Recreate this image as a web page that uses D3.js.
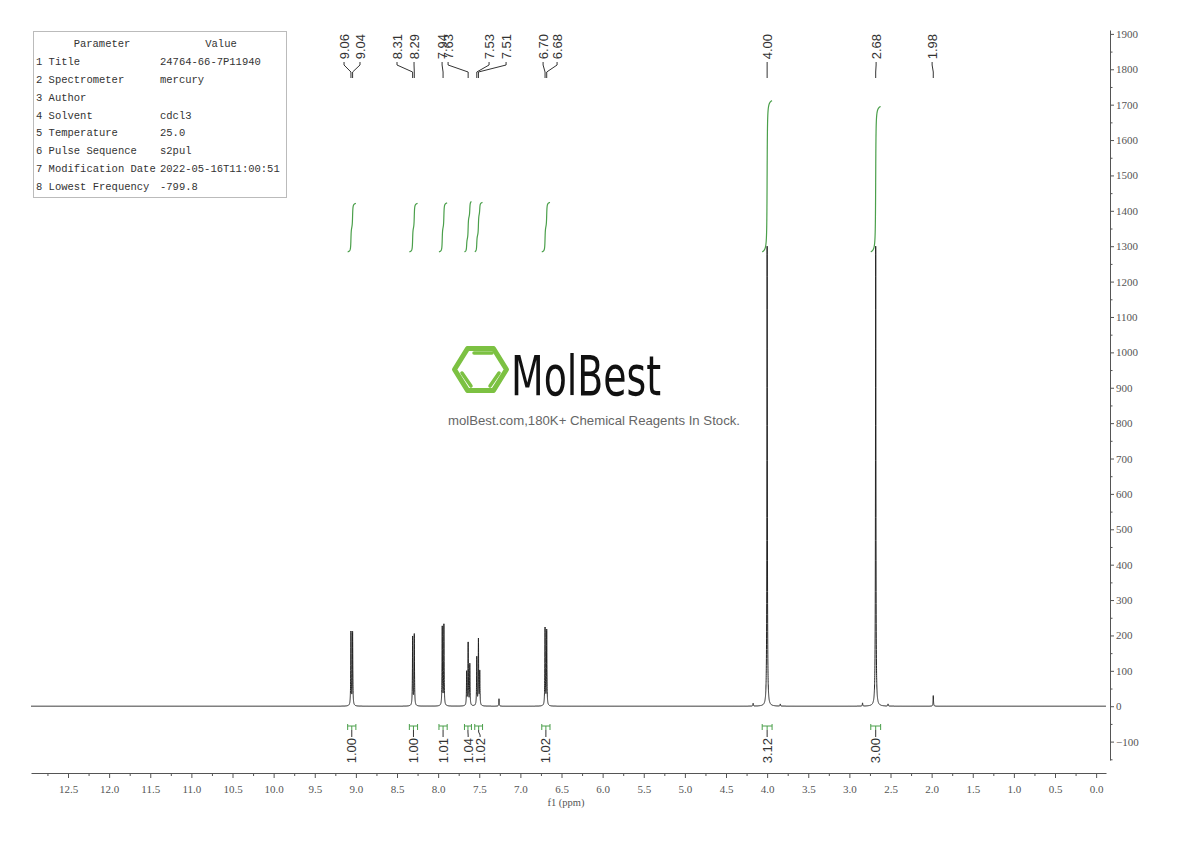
<!DOCTYPE html>
<html><head><meta charset="utf-8">
<script src="https://cdn.jsdelivr.net/npm/d3@7"></script>
<style>body{margin:0;background:#fff}svg{display:block}</style>
</head><body>
<svg id="c" width="1190" height="841"></svg>
<script>
// ---------- data ----------
const paramNames = ["1 Title","2 Spectrometer","3 Author","4 Solvent","5 Temperature","6 Pulse Sequence","7 Modification Date","8 Lowest Frequency"];
const paramValues = ["24764-66-7P11940","mercury","","cdcl3","25.0","s2pul","2022-05-16T11:00:51","-799.8"];

const peakPpm    = [9.06, 9.04, 8.31, 8.29, 7.95, 7.93, 7.653, 7.635, 7.615, 7.53, 7.51, 7.494, 7.26, 6.70, 6.68, 4.17, 4.00, 3.84, 2.84, 2.68, 2.53, 1.98];
const peakHeight = [208,  207,  194,  201,  222,  228,  95,    177,   117,   136,  186,  95,    21,   219,  213,  8,    1300, 6,    9,    1300, 6,    30];

const labelText = ["9.06","9.04","8.31","8.29","7.94","7.63","7.53","7.51","6.70","6.68","4.00","2.68","1.98"];
const labelPeak = [9.06, 9.04, 8.31, 8.29, 7.94, 7.635, 7.53, 7.51, 6.70, 6.68, 4.00, 2.68, 1.98];
const labelAt   = [9.144, 8.95, 8.50, 8.293, 7.952, 7.879, 7.381, 7.174, 6.724, 6.554, 4.00, 2.675, 1.994];

const integFrom  = [9.10, 8.35, 7.99, 7.68, 7.555, 6.74, 4.06, 2.74];
const integTo    = [9.00, 8.25, 7.89, 7.595, 7.46, 6.64, 3.94, 2.62];
const integValue = [1.00, 1.00, 1.01, 1.04, 1.02, 1.02, 3.12, 3.00];
const integLabelAt = [9.05, 8.30, 7.94, 7.635, 7.49, 6.69, 4.00, 2.68];

const xTicks = d3.range(0, 12.51, 0.5);
const yTicks = d3.range(-100, 1901, 100);

// ---------- scales ----------
const svg = d3.select("#c");
const x = d3.scaleLinear().domain([12.95, -0.12]).range([31, 1106]);
const y = d3.scaleLinear().domain([-152, 1911]).range([760, 30]);
const hw = 0.003;
const lor = (p, c, h) => h * hw * hw / ((p - c) * (p - c) + hw * hw);
const grid = d3.range(12.95, -0.12, -0.0004);
const spec = grid.map(p => {
  let s = 0;
  for (let i = 0; i < peakPpm.length; i++) s += lor(p, peakPpm[i], peakHeight[i]);
  return [p, s];
});

// ---------- table ----------
const tbl = svg.append("g").attr("font-family", "Liberation Mono, monospace").attr("font-size", "10.5px").attr("fill", "#333");
tbl.append("rect").attr("x", 33.5).attr("y", 31.5).attr("width", 253).attr("height", 166).attr("fill", "none").attr("stroke", "#bbb");
tbl.append("text").attr("x", 102).attr("y", 47).attr("text-anchor", "middle").text("Parameter");
tbl.append("text").attr("x", 221).attr("y", 47).attr("text-anchor", "middle").text("Value");
const rowY = d3.scaleLinear().domain([0, 7]).range([65, 190]);
tbl.selectAll("text.n").data(paramNames).join("text").attr("class", "n")
  .attr("x", 36).attr("y", (d, i) => rowY(i)).text(d => d);
tbl.selectAll("text.v").data(paramValues).join("text").attr("class", "v")
  .attr("x", 160).attr("y", (d, i) => rowY(i)).text(d => d);

// ---------- logo ----------
const logo = svg.append("g");
const cx = 480.5, cy = 369.5, r = 26;
const hex = d3.range(6).map(k => [cx + r * Math.cos(k * Math.PI / 3), cy + r * 0.93 * Math.sin(k * Math.PI / 3)]);
logo.append("path").attr("d", "M" + hex.join("L") + "Z").attr("fill", "none")
  .attr("stroke", "#7cc142").attr("stroke-width", 5).attr("stroke-linejoin", "round");
[[[474, 353], [492, 353]], [[462, 373], [471, 386]], [[499, 373], [490, 386]]].forEach(s =>
  logo.append("line").attr("x1", s[0][0]).attr("y1", s[0][1]).attr("x2", s[1][0]).attr("y2", s[1][1])
    .attr("stroke", "#7cc142").attr("stroke-width", 3.5).attr("stroke-linecap", "round"));
logo.append("text").attr("x", 511).attr("y", 395).attr("font-family", "DejaVu Sans Condensed, Liberation Sans Narrow, sans-serif")
  .attr("font-size", "56px").attr("font-weight", "normal").attr("fill", "#111")
  .attr("textLength", 150).attr("lengthAdjust", "spacingAndGlyphs").text("MolBest");
logo.append("text").attr("x", 448).attr("y", 425).attr("font-family", "Liberation Sans, Arial, sans-serif")
  .attr("font-size", "13px").attr("fill", "#666")
  .attr("textLength", 292).attr("lengthAdjust", "spacingAndGlyphs").text("molBest.com,180K+ Chemical Reagents In Stock.");

// ---------- x axis ----------
svg.append("g").attr("transform", "translate(0,773)")
  .call(d3.axisBottom(x).tickValues(xTicks).tickSize(5).tickSizeOuter(0).tickPadding(7).tickFormat(d3.format(".1f")));
svg.append("g").attr("transform", "translate(0,773)")
  .call(d3.axisBottom(x).tickValues(xTicks.map(v => v + 0.25).filter(v => v < 12.95)).tickSize(3).tickFormat(""))
  .select(".domain").remove();
svg.append("text").attr("x", 566).attr("y", 806).attr("text-anchor", "middle")
  .attr("font-family", "Liberation Serif, serif").attr("font-size", "10.5px").attr("fill", "#555").text("f1 (ppm)");

// ---------- y axis ----------
svg.append("g").attr("transform", "translate(1110,0)")
  .call(d3.axisRight(y).tickValues(yTicks).tickSize(4).tickSizeOuter(0).tickPadding(2).tickFormat(d3.format("d")));
svg.append("g").attr("transform", "translate(1110,0)")
  .call(d3.axisRight(y).tickValues(yTicks.map(v => v - 50)).tickSize(2.5).tickFormat(""))
  .select(".domain").remove();
svg.selectAll(".tick text").attr("font-family", "Liberation Serif, serif").attr("font-size", "11px").attr("fill", "#555");
svg.selectAll(".domain, .tick line").attr("stroke", "#555");

// ---------- spectrum ----------
svg.append("path").datum(spec).attr("fill", "none").attr("stroke", "#222").attr("stroke-width", 1)
  .attr("d", d3.line().x(d => x(d[0])).y(d => y(d[1])));

// ---------- integral curves ----------
const perH = 137, integBase = 1284;
const green = "#4a9f4a";
integFrom.forEach((a, i) => {
  const b = integTo[i];
  const pts = spec.filter(d => d[0] <= a && d[0] >= b);
  let acc = 0;
  const cum = pts.map(d => { acc += d[1]; return [d[0], acc]; });
  const tot = acc;
  svg.append("path").datum(cum).attr("fill", "none").attr("stroke", green).attr("stroke-width", 1.2)
    .attr("d", d3.line().x(d => x(d[0])).y(d => y(integBase + d[1] / tot * integValue[i] * perH)));
});

// ---------- integral labels ----------
const il = svg.append("g");
integFrom.forEach((a, i) => {
  const xa = x(a), xb = x(integTo[i]);
  const xm = x(integLabelAt[i]);
  const xc = (xa + xb) / 2;
  il.append("path").attr("fill", "none").attr("stroke", green).attr("stroke-width", 1)
    .attr("d", `M${xa},724V730M${xa},726H${xb}M${xb},724V730M${xc},726V730`);
  il.append("path").attr("fill", "none").attr("stroke", "#333").attr("stroke-width", 1)
    .attr("d", `M${xc},730V732L${xm},735V737`);
  il.append("text").attr("transform", `translate(${xm},738) rotate(-90)`).attr("dy", "0.35em")
    .attr("text-anchor", "end").attr("font-family", "Liberation Sans, Arial, sans-serif")
    .attr("font-size", "13px").attr("fill", "#333").text(integValue[i].toFixed(2));
});

// ---------- peak labels ----------
const pl = svg.append("g");
labelText.forEach((t, i) => {
  const xl = x(labelAt[i]), xp = x(labelPeak[i]);
  pl.append("text").attr("transform", `translate(${xl},34) rotate(-90)`).attr("dy", "0.35em")
    .attr("text-anchor", "end").attr("font-family", "Liberation Sans, Arial, sans-serif")
    .attr("font-size", "13px").attr("fill", "#333").text(t);
  pl.append("path").attr("fill", "none").attr("stroke", "#333").attr("stroke-width", 1)
    .attr("d", `M${xl},62V65L${xp},72V78`);
});
</script>
</body></html>
